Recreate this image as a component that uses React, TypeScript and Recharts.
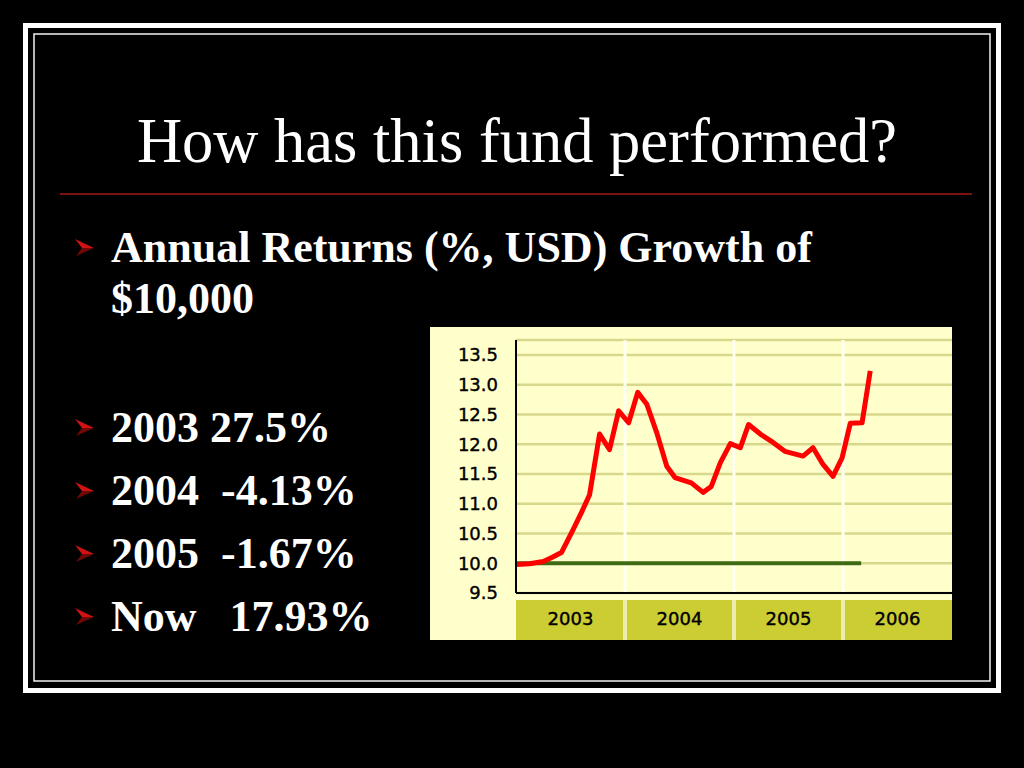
import React from "react";
import {
  LineChart,
  Line,
  XAxis,
  YAxis,
  CartesianGrid,
  ReferenceLine,
} from "recharts";

// year bands on the x axis
const years = ["2003", "2004", "2005", "2006"];

// fund value (thousand USD), months since Jan 2003
const months = [
  0, 1.5, 3, 4, 5, 6.3, 7.2, 8.1, 9.2, 10.3, 11.3, 12.4, 13.4, 14.4, 15.5,
  16.6, 17.5, 19.3, 20.6, 21.5, 22.5, 23.6, 24.7, 25.6, 26.9, 28.3, 29.6,
  31.6, 32.7, 33.8, 34.9, 35.9, 36.8, 38.1, 39,
];
const values = [
  9.98, 9.99, 10.03, 10.1, 10.18, 10.57, 10.85, 11.15, 12.17, 11.91, 12.56,
  12.36, 12.87, 12.67, 12.19, 11.63, 11.44, 11.35, 11.19, 11.29, 11.69, 12.01,
  11.94, 12.33, 12.17, 12.03, 11.88, 11.8, 11.94, 11.66, 11.46, 11.77, 12.35,
  12.36, 13.23,
];

// starting $10,000 reference line
const baseMonths = [0, 38];
const baseValues = [10, 10];

const yTicks = [9.5, 10, 10.5, 11, 11.5, 12, 12.5, 13, 13.5];

const bulletLines = [
  { text: "Annual Returns (%, USD) Growth of", y: 262, arrow: true },
  { text: "$10,000", y: 313, arrow: false },
  { text: "2003 27.5%", y: 442, arrow: true },
  { text: "2004  -4.13%", y: 505, arrow: true },
  { text: "2005  -1.67%", y: 568, arrow: true },
  { text: "Now   17.93%", y: 631, arrow: true },
];

const navData = months.map((m, i) => ({ m, v: values[i] }));
const baseData = baseMonths.map((m, i) => ({ m, v: baseValues[i] }));
const yearTicks = years.map((_, i) => i * 12 + 6);
const yearEdges = years.slice(1).map((_, i) => (i + 1) * 12);

const chartFont = "'DejaVu Sans', Verdana, sans-serif";
const serif = "'Liberation Serif', 'Times New Roman', serif";

const YearTick = (props: any) => {
  const { x, y, payload, width } = props;
  const idx = Math.floor(payload.value / 12);
  const w = (width || 436) / years.length;
  const first = idx === 0;
  const last = idx === years.length - 1;
  const left = x - w / 2 + (first ? 0 : 2);
  const right = x + w / 2 - (last ? 0 : 2);
  return (
    <g>
      <rect x={x - w / 2} y={y + 7} width={w} height={40} fill="#ececb0" />
      <rect x={left} y={y + 7} width={right - left} height={40} fill="#cccc33" />
      <text
        x={x}
        y={y + 25}
        textAnchor="middle"
        dominantBaseline="central"
        fontFamily={chartFont}
        fontSize={18}
        fill="#000"
        stroke="#000"
        strokeWidth={0.4}
      >
        {years[idx]}
      </text>
    </g>
  );
};

const Arrow = ({ y }: { y: number }) => (
  <g transform={`translate(75, ${y - 23})`}>
    {/* upper half lighter, lower half darker */}
    <polygon points="0,0 19,9 7,9" fill="#d01212" />
    <polygon points="1,17 19,9 7,9" fill="#700808" />
  </g>
);

export default function App() {
  return (
    <div
      style={{
        position: "absolute",
        left: 0,
        top: 0,
        width: 1024,
        height: 768,
        background: "#000",
        overflow: "hidden",
      }}
    >
      <svg width={1024} height={768} style={{ position: "absolute", left: 0, top: 0 }}>
        {/* double frame */}
        <rect x={25.5} y={25.5} width={973} height={665} fill="none" stroke="#fff" strokeWidth={5} />
        <rect x={34} y={34} width={956} height={647} fill="none" stroke="#f2f2f2" strokeWidth={1.5} />

        <text x={517} y={162} textAnchor="middle" fontFamily={serif} fontSize={62.5} fill="#fff">
          How has this fund performed?
        </text>
        <line x1={60} y1={194} x2={972} y2={194} stroke="#7a1414" strokeWidth={2} />

        {bulletLines.map((b) => (
          <g key={b.text}>
            {b.arrow && <Arrow y={b.y} />}
            <text
              x={111}
              y={b.y}
              fontFamily={serif}
              fontWeight="bold"
              fontSize={44}
              fill="#fff"
              style={{ whiteSpace: "pre" }}
            >
              {b.text}
            </text>
          </g>
        ))}
      </svg>

      <div
        style={{
          position: "absolute",
          left: 430,
          top: 327,
          width: 522,
          height: 313,
          background: "#ffffcc",
        }}
      >
        <LineChart width={522} height={313} margin={{ top: 13, right: 0, bottom: 0, left: 0 }}>
          <CartesianGrid vertical={false} stroke="#d8d88c" strokeWidth={2.5} />
          {yearEdges.map((e) => (
            <ReferenceLine key={e} x={e} stroke="#fffff2" strokeWidth={3} />
          ))}
          <XAxis
            type="number"
            dataKey="m"
            domain={[0, 48]}
            ticks={yearTicks}
            interval={0}
            height={47}
            tickSize={0}
            tickMargin={0}
            tickLine={false}
            axisLine={{ stroke: "#000", strokeWidth: 2 }}
            tick={<YearTick />}
            allowDataOverflow
          />
          <YAxis
            type="number"
            domain={[9.5, 13.75]}
            ticks={yTicks}
            interval={0}
            width={86}
            tickSize={0}
            tickMargin={18}
            tickLine={false}
            axisLine={{ stroke: "#000", strokeWidth: 2 }}
            tickFormatter={(v: number) => v.toFixed(1)}
            tick={{ fontFamily: chartFont, fontSize: 18, fill: "#000", stroke: "#000", strokeWidth: 0.4 }}
            allowDataOverflow
          />
          <Line
            data={baseData}
            dataKey="v"
            type="linear"
            stroke="#3d6a12"
            strokeWidth={4}
            dot={false}
            isAnimationActive={false}
          />
          <Line
            data={navData}
            dataKey="v"
            type="linear"
            stroke="#ff0000"
            strokeWidth={5}
            strokeLinejoin="round"
            dot={false}
            isAnimationActive={false}
          />
        </LineChart>
      </div>
    </div>
  );
}
